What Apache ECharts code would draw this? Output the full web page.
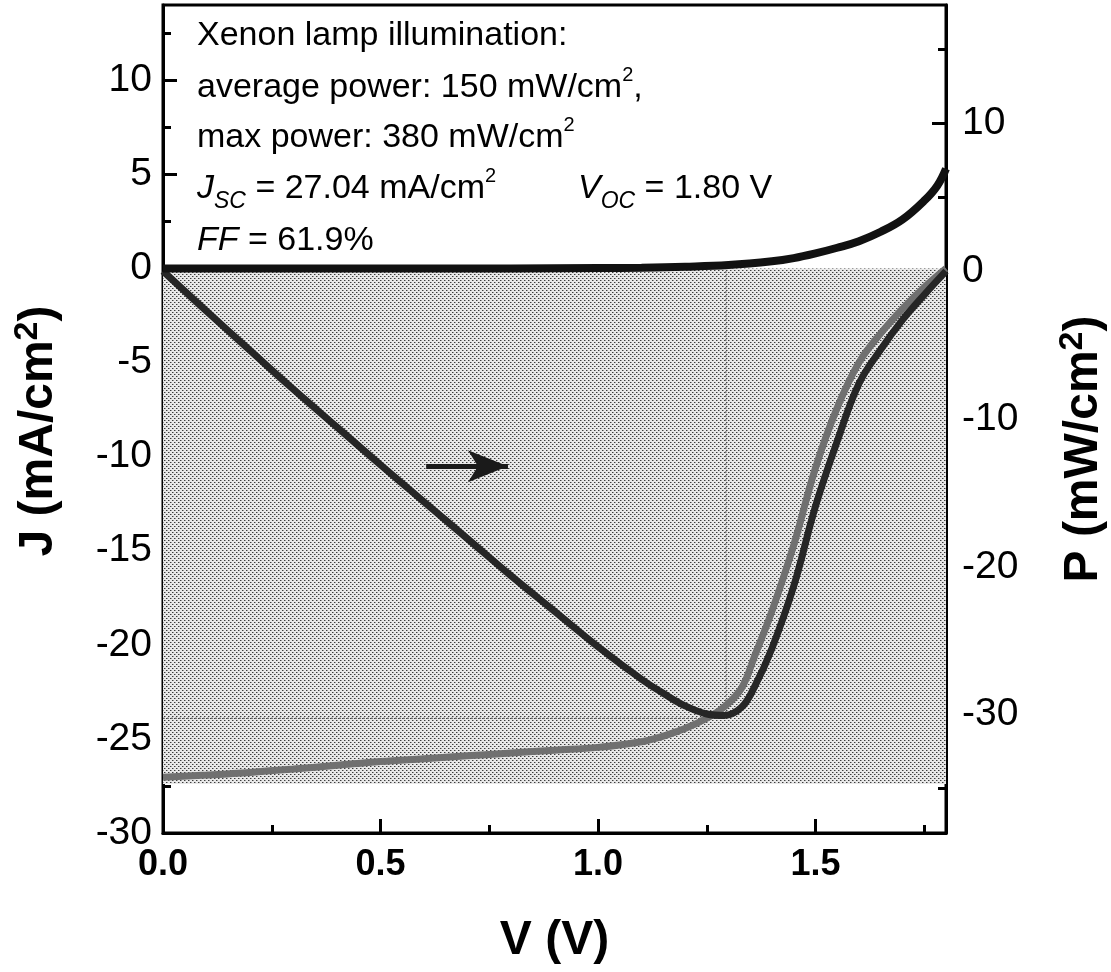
<!DOCTYPE html>
<html>
<head>
<meta charset="utf-8">
<script src="https://cdn.jsdelivr.net/npm/echarts@6/dist/echarts.min.js"></script>
<style>
  html, body { margin: 0; padding: 0; background: #fff; }
  #chart { width: 1111px; height: 972px; }
</style>
</head>
<body>
<div id="chart"></div>
<script>
// Illuminated J-V curve (mA/cm2)
const voltage = [0, 0.1, 0.2, 0.3, 0.4, 0.5, 0.6, 0.7, 0.8, 0.9, 1.0, 1.1, 1.15, 1.2, 1.25, 1.29, 1.33, 1.36, 1.4, 1.45, 1.5, 1.55, 1.6, 1.65, 1.7, 1.75, 1.8];
const jLight  = [-27.04, -26.92, -26.78, -26.6, -26.4, -26.2, -26.05, -25.9, -25.75, -25.6, -25.45, -25.15, -24.85, -24.45, -23.9, -23.3, -22.3, -20.6, -18.2, -14.7, -10.6, -7.4, -5.0, -3.45, -2.15, -1.0, 0];
// Output power density (mW/cm2), same voltage grid
const power   = [0, -2.7, -5.36, -8.0, -10.55, -13.1, -15.6, -18.1, -20.6, -23.0, -25.4, -27.6, -28.55, -29.4, -29.95, -30.05, -29.5, -28.1, -25.5, -21.3, -15.9, -11.5, -7.6, -5.3, -3.3, -1.6, 0];
// Dark J-V curve
const darkVoltage = [0, 0.2, 0.4, 0.6, 0.8, 1.0, 1.1, 1.2, 1.3, 1.4, 1.45, 1.5, 1.55, 1.6, 1.65, 1.7, 1.75, 1.78, 1.8];
const jDark       = [0, 0, 0, 0, 0, 0.02, 0.04, 0.09, 0.18, 0.38, 0.55, 0.8, 1.1, 1.45, 1.95, 2.6, 3.6, 4.4, 5.3];

// Jsc x Voc box and maximum power point
const boxV = [0, 1.8];
const boxJ = [0, -27.4];
const mppV = [0, 1.294, 1.294];
const mppJ = [-23.9, -23.9, 0];

// Arrow pointing to the power axis
const arrowV = [0.605, 0.793];
const arrowP = [-13.2, -13.2];

// Axis ticks
const vTicks = [0, 0.5, 1.0, 1.5];
const vMinor = [0.25, 0.75, 1.25, 1.75];
const jTicks = [-30, -25, -20, -15, -10, -5, 0, 5, 10];
const jMinor = [-27.5, -22.5, -17.5, -12.5, -7.5, -2.5, 2.5, 7.5, 12.5];
const pTicks = [-30, -20, -10, 0, 10];
const pMinor = [-35, -25, -15, -5, 5, 15];

const FONT = '"Liberation Sans", Arial, Helvetica, sans-serif';

function halftone() {
  const c = document.createElement('canvas');
  c.width = 4; c.height = 4;
  const g = c.getContext('2d');
  g.fillStyle = '#e8e8e8'; g.fillRect(0, 0, 4, 4);
  g.fillStyle = '#3c3c3c'; g.fillRect(0, 0, 1, 1); g.fillRect(2, 2, 1, 1);
  g.fillStyle = '#9a9a9a'; g.fillRect(1, 0, 1, 1); g.fillRect(3, 2, 1, 1);
  return c;
}

const pairs = (xs, ys) => xs.map((x, i) => [x, ys[i]]);

const tickStyle = { color: '#000', width: 3 };

function valueAxis(extra) {
  return Object.assign({
    type: 'value',
    gridIndex: 0,
    splitLine: { show: false },
    axisLine: { show: false, onZero: false },
  }, extra);
}

const chart = echarts.init(document.getElementById('chart'), null, { renderer: 'canvas' });

const titleRich = {
  t: { fontFamily: FONT, fontSize: 48, fontWeight: 'bold', color: '#000' },
  s: { fontFamily: FONT, fontSize: 34, fontWeight: 'bold', color: '#000', padding: [0, 0, 22, 0] }
};

const option = {
  animation: false,
  backgroundColor: '#fff',
  grid: {
    left: 163, top: 5, width: 783, height: 828,
    outerBoundsMode: 'none', containLabel: false,
    show: true, borderColor: '#000', borderWidth: 3, backgroundColor: 'transparent'
  },
  xAxis: [
    valueAxis({
      min: 0, max: 1.8, position: 'bottom',
      name: 'V (V)', nameLocation: 'middle', nameGap: 84,
      nameTextStyle: { fontFamily: FONT, fontSize: 48, fontWeight: 'bold', color: '#000' },
      axisLine: { show: true, onZero: false, lineStyle: tickStyle },
      axisTick: { show: true, inside: true, length: 14, lineStyle: tickStyle, customValues: vTicks },
      axisLabel: { customValues: vTicks, formatter: v => v.toFixed(1), fontFamily: FONT, fontSize: 36, fontWeight: 'bold', color: '#000', margin: 14 }
    }),
    valueAxis({
      min: 0, max: 1.8, position: 'bottom',
      axisTick: { show: true, inside: true, length: 8, lineStyle: tickStyle, customValues: vMinor },
      axisLabel: { show: false }
    })
  ],
  yAxis: [
    valueAxis({
      min: -30, max: 14, position: 'left',
      name: '{t|J (mA/cm}{s|2}{t|)}', nameLocation: 'middle', nameGap: 96,
      nameTextStyle: { rich: titleRich, padding: [0, 24, 0, 0] },
      axisLine: { show: true, onZero: false, lineStyle: tickStyle },
      axisTick: { show: true, inside: true, length: 14, lineStyle: tickStyle, customValues: jTicks },
      axisLabel: { customValues: jTicks, fontFamily: FONT, fontSize: 39, color: '#000', margin: 11 }
    }),
    valueAxis({
      min: -30, max: 14, position: 'left',
      axisTick: { show: true, inside: true, length: 8, lineStyle: tickStyle, customValues: jMinor },
      axisLabel: { show: false }
    }),
    valueAxis({
      min: -38, max: 18, position: 'right',
      name: '{t|P (mW/cm}{s|2}{t|)}', nameLocation: 'middle', nameGap: 110,
      nameTextStyle: { rich: titleRich, padding: [0, 60, 0, 0] },
      axisLine: { show: true, onZero: false, lineStyle: tickStyle },
      axisTick: { show: true, inside: true, length: 14, lineStyle: tickStyle, customValues: pTicks },
      axisLabel: { customValues: pTicks, fontFamily: FONT, fontSize: 39, color: '#000', margin: 16 }
    }),
    valueAxis({
      min: -38, max: 18, position: 'right',
      axisTick: { show: true, inside: true, length: 8, lineStyle: tickStyle, customValues: pMinor },
      axisLabel: { show: false }
    })
  ],
  series: [
    {
      name: 'J light',
      type: 'line', xAxisIndex: 0, yAxisIndex: 0,
      data: pairs(voltage, jLight),
      showSymbol: false, smooth: 0.4,
      lineStyle: { color: '#707070', width: 7 },
      z: 3,
      markArea: {
        silent: true,
        itemStyle: { color: { image: halftone(), repeat: 'repeat' } },
        data: [[{ coord: [boxV[0], boxJ[0]] }, { coord: [boxV[1], boxJ[1]] }]]
      }
    },
    {
      name: 'MPP',
      type: 'line', xAxisIndex: 0, yAxisIndex: 0,
      data: pairs(mppV, mppJ),
      showSymbol: false, silent: true,
      lineStyle: { color: '#555', width: 1, type: [2, 2] },
      z: 2
    },
    {
      name: 'P',
      type: 'line', xAxisIndex: 0, yAxisIndex: 2,
      data: pairs(voltage, power),
      showSymbol: false, smooth: 0.4,
      lineStyle: { color: '#262626', width: 7 },
      z: 4,
      markLine: {
        silent: true,
        symbol: ['none', 'arrow'],
        symbolSize: [24, 40],
        label: { show: false },
        lineStyle: { color: '#1a1a1a', width: 5, type: 'solid' },
        data: [[{ coord: [arrowV[0], arrowP[0]] }, { coord: [arrowV[1], arrowP[1]] }]]
      }
    },
    {
      name: 'J dark',
      type: 'line', xAxisIndex: 0, yAxisIndex: 0,
      data: pairs(darkVoltage, jDark),
      showSymbol: false, smooth: 0.4,
      lineStyle: { color: '#111', width: 8 },
      z: 5
    }
  ],
  graphic: (function () {
    const n = { fontFamily: FONT, fontSize: 34, color: '#000' };
    const it = { fontFamily: FONT, fontSize: 34, fontStyle: 'italic', color: '#000' };
    const sup = { fontFamily: FONT, fontSize: 20, color: '#000', padding: [0, 0, 26, 0] };
    const sub = { fontFamily: FONT, fontSize: 23, fontStyle: 'italic', color: '#000', padding: [26, 0, 0, 0] };
    const rich = { n, i: it, sup, sub };
    const line = (x, y, text) => ({
      type: 'text', x, y, z: 100,
      style: { text, rich, align: 'left', verticalAlign: 'middle', fill: '#000' }
    });
    return [
      line(197, 36, '{n|Xenon lamp illumination:}'),
      line(197, 88, '{n|average power: 150 mW/cm}{sup|2}{n|,}'),
      line(197, 138, '{n|max power: 380 mW/cm}{sup|2}'),
      line(197, 189, '{i|J}{sub|SC}{n| = 27.04 mA/cm}{sup|2}'),
      line(578, 189, '{i|V}{sub|OC}{n| = 1.80 V}'),
      line(197, 241, '{i|FF}{n| = 61.9%}')
    ];
  })()
};

chart.setOption(option);
</script>
</body>
</html>
